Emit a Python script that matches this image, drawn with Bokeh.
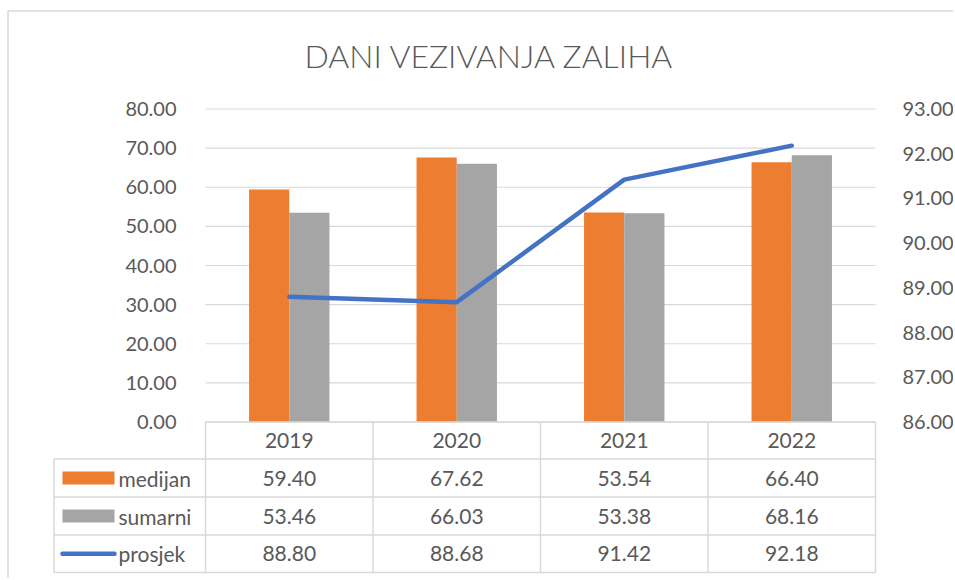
from bokeh.plotting import figure
from bokeh.models import Range1d, LinearAxis, FixedTicker, ColumnDataSource, NumeralTickFormatter
from bokeh.core.properties import value
from bokeh.transform import dodge
from bokeh.embed import file_html
from bokeh.resources import INLINE

# ---------------- data ----------------
title_text = "DANI VEZIVANJA ZALIHA"
years = ["2019", "2020", "2021", "2022"]
medijan = [59.40, 67.62, 53.54, 66.40]
sumarni = [53.46, 66.03, 53.38, 68.16]
prosjek = [88.80, 88.68, 91.42, 92.18]
series_names = ["medijan", "sumarni", "prosjek"]
left_ticks = [0, 10, 20, 30, 40, 50, 60, 70, 80]
right_ticks = [86, 87, 88, 89, 90, 91, 92, 93]

# ---------------- styling / layout ----------------
ORANGE = "#ED7D31"
GRAY = "#A5A5A5"
BLUE = "#4472C4"
TXT = "#595959"
LINE = "#d9d9d9"
FONT = "Lato"
W, H = 953, 578
PAGE = 0  # page offset of the canvas

# page-pixel layout of the plot area (left axis 0..80, right axis 86..93)
PX_L, PX_R = 205.0, 875.0
PY_TOP, PY_BOT = 108.5, 421.5
n = len(years)
xs_per_px = n / (PX_R - PX_L)
def xd(px):
    return (px - PX_L) * xs_per_px
def yd(py):
    return (PY_BOT - py) * (left_ticks[-1] - left_ticks[0]) / (PY_BOT - PY_TOP) + left_ticks[0]
def yr(py):
    return (PY_BOT - py) * (right_ticks[-1] - right_ticks[0]) / (PY_BOT - PY_TOP) + right_ticks[0]

p = figure(width=W, height=H,
           x_range=Range1d(xd(PAGE), xd(PAGE + W)),
           y_range=Range1d(yd(PAGE + H), yd(PAGE)),
           x_axis_location=None, y_axis_location=None,
           output_backend="svg", toolbar_location=None,
           min_border=0, min_border_left=0, min_border_right=0,
           min_border_top=0, min_border_bottom=0)
p.extra_y_ranges = {"right": Range1d(yr(PAGE + H), yr(PAGE))}
p.outline_line_color = None
p.background_fill_color = "white"
p.border_fill_color = "white"
p.grid.visible = False

# axes (real axes, drawn at the plot-area edges)
def style_axis(ax, standoff):
    ax.axis_line_color = None
    ax.major_tick_line_color = None
    ax.minor_tick_line_color = None
    ax.major_label_text_font = FONT
    ax.major_label_text_font_size = "20px"
    ax.major_label_text_color = TXT
    ax.major_label_standoff = standoff
    ax.formatter = NumeralTickFormatter(format="0.00")

lax = LinearAxis(fixed_location=0, ticker=FixedTicker(ticks=left_ticks))
style_axis(lax, 23)
p.add_layout(lax, "left")
rax = LinearAxis(fixed_location=n, y_range_name="right", ticker=FixedTicker(ticks=right_ticks))
style_axis(rax, 21)
p.add_layout(rax, "right")

# outer chart border
p.segment(x0=[xd(7.5), xd(7.5)], y0=[yd(10.5), yd(10.5)], x1=[xd(7.5), xd(PAGE + W)],
          y1=[yd(PAGE + H), yd(10.5)], line_color=LINE, line_width=1.5)

# gridlines
gsrc = ColumnDataSource(dict(y=left_ticks, x0=[0] * len(left_ticks), x1=[n] * len(left_ticks)))
p.segment(x0="x0", x1="x1", y0="y", y1="y", source=gsrc, line_color=LINE, line_width=1.2)

# bars + line
src = ColumnDataSource(dict(x=[i + 0.5 for i in range(n)], years=years,
                            medijan=medijan, sumarni=sumarni, prosjek=prosjek))
p.vbar(x=dodge("x", -0.12, range=p.x_range), top="medijan", bottom=0, width=0.24, source=src,
       fill_color=ORANGE, line_color=None)
p.vbar(x=dodge("x", 0.12, range=p.x_range), top="sumarni", bottom=0, width=0.24, source=src,
       fill_color=GRAY, line_color=None)
p.line(x="x", y="prosjek", source=src, y_range_name="right", line_color=BLUE, line_width=4.5,
       line_join="round", line_cap="round")

# title
p.text(x=[xd(489)], y=[yd(55)], text=[title_text], text_font=value("Lato Light, Lato"),
       text_font_size="32px", text_color=TXT, text_align="center", text_baseline="middle")

# ---------------- data table ----------------
rows_px = [421.5, 458.5, 496.5, 534.5, 572.0]
rows = [yd(v) for v in rows_px]
LEFT_COL = xd(53.5)
# horizontal lines
hx0 = [0] + [LEFT_COL] * 4
hx1 = [n] * 5
p.segment(x0=hx0, x1=hx1, y0=rows, y1=rows, line_color=LINE, line_width=1.5)
# vertical lines
vx = [LEFT_COL] + list(range(n + 1))
vy0 = [rows[1]] + [rows[0]] * (n + 1)
vy1 = [rows[-1]] * (n + 2)
p.segment(x0=vx, x1=vx, y0=vy0, y1=vy1, line_color=LINE, line_width=1.5)

mids = [(rows[i] + rows[i + 1]) / 2 for i in range(4)]
# header
p.text(x="x", y=mids[0], text="years", source=src, text_font=value(FONT), text_font_size="21px",
       text_color=TXT, text_align="center", text_baseline="middle")
# values
for k, vals in enumerate([medijan, sumarni, prosjek]):
    p.text(x=[i + 0.5 for i in range(n)], y=[mids[k + 1]] * n, text=["%.2f" % v for v in vals],
           text_font=value(FONT), text_font_size="21px", text_color=TXT,
           text_align="center", text_baseline="middle")
# legend keys
p.rect(x=[xd(88)] * 2, y=[mids[1], mids[2]], width=52, height=13, width_units="screen",
       height_units="screen", fill_color=[ORANGE, GRAY], line_color=None)
p.line(x=[xd(62), xd(114)], y=[mids[3], mids[3]], line_color=BLUE, line_width=4.5, line_cap="round")
p.text(x=[xd(118)] * 3, y=mids[1:], text=series_names, text_font=value(FONT), text_font_size="21px",
       text_color=TXT, text_align="left", text_baseline="middle")

open("out.html", "w").write(file_html(p, INLINE))
